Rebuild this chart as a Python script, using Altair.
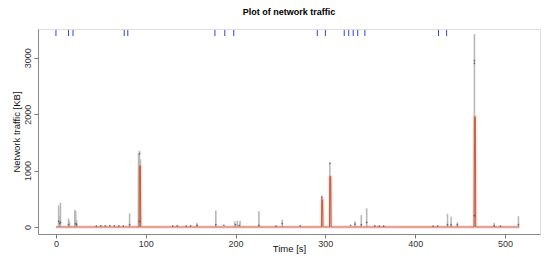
import altair as alt
import pandas as pd

# gray spikes (max traffic per time)
gray_t = [3, 4, 5, 14, 15, 21, 22, 23, 82, 92, 93, 94, 157, 178, 199, 202, 205, 226, 252,
          296, 305, 333, 340, 346, 436, 440, 447, 466, 488, 515]
gray_v = [380, 200, 430, 150, 100, 300, 280, 120, 240, 1300, 1350, 1200, 70, 290, 100, 110, 110, 280, 130,
          560, 1130, 100, 210, 330, 230, 180, 80, 3420, 70, 190]

# dark points
dark_t = [3, 4, 5, 14, 22, 23, 45, 50, 55, 60, 65, 70, 75, 82, 93, 93, 130, 135, 145, 150, 157, 178, 187,
          200, 204, 226, 245, 252, 272, 296, 305, 328, 333, 340, 346, 355, 360, 365, 420, 425, 436, 440,
          447, 466, 466, 466, 488, 495, 515]
dark_v = [100, 60, 80, 40, 60, 40, 15, 20, 20, 25, 20, 20, 15, 40, 100, 1300, 15, 20, 15, 20, 30, 40, 30,
          40, 30, 30, 15, 60, 20, 520, 1130, 30, 50, 40, 80, 20, 15, 15, 15, 15, 40, 40,
          40, 2900, 2950, 200, 20, 15, 40]

# red (mean) series
red_t = [0, 92.6, 93, 94, 94.4, 295.6, 296, 297, 297.4, 304.6, 305, 306, 306.4, 465.6, 466, 467, 467.4, 516]
red_v = [0, 0, 1080, 1080, 0, 0, 480, 480, 0, 0, 890, 890, 0, 0, 1950, 1950, 0, 0]

# rug (events) at top
rug_t = [0, 14, 19, 76, 80, 177, 188, 198, 291, 300, 321, 326, 331, 336, 344, 426, 435]

x_ticks = [0, 100, 200, 300, 400, 500]
y_ticks = [0, 500, 1000, 1500, 2000, 2500, 3000, 3500]

gray_df = pd.DataFrame({"t": gray_t, "v": gray_v})
dark_df = pd.DataFrame({"t": dark_t, "v": dark_v})
red_df = pd.DataFrame({"t": red_t, "v": red_v})
rug_df = pd.DataFrame({"t": rug_t})

xs = alt.Scale(domain=[-20, 539], nice=False, zero=False)
ys = alt.Scale(domain=[-125, 3510], nice=False, zero=False)

axis_x = alt.Axis(values=x_ticks, format="d", title="Time [s]", labelFontSize=9, titleFontSize=9.5,
                  titleFontWeight="normal", labelColor="#333", titleColor="#111",
                  tickColor="#777", domainColor="#888", tickSize=4, labelPadding=1,
                  titlePadding=-5, grid=False)
axis_y = alt.Axis(values=y_ticks, format="d", title="Network traffic [KB]", labelFontSize=9,
                  titleFontSize=9.5, titleFontWeight="normal", labelColor="#333", titleColor="#111",
                  tickColor="#777", domainColor="#888", tickSize=4, labelAngle=-90,
                  labelAlign="center", labelBaseline="bottom", labelPadding=2,
                  titlePadding=2, grid=False)

x = alt.X("t:Q", scale=xs, axis=axis_x)
y = alt.Y("v:Q", scale=ys, axis=axis_y)

pink = alt.Chart(red_df).mark_line(color="#f4a3b0", strokeWidth=4, opacity=0.25).encode(x=x, y=y)
gray = alt.Chart(gray_df).mark_rule(color="#b8b8b8", strokeWidth=1.6).encode(
    x=x, y=alt.Y("v:Q", scale=ys), y2=alt.datum(0))
red = alt.Chart(red_df).mark_line(color="#c8623e", strokeWidth=1.1).encode(x=x, y=y)
dark = alt.Chart(dark_df).mark_point(color="#444444", size=3, filled=True, opacity=0.7).encode(x=x, y=y)
rug = alt.Chart(rug_df).mark_rule(color="#3344cc", strokeWidth=1).encode(
    x=x, y=alt.value(1), y2=alt.value(7))

chart = alt.layer(pink, gray, red, dark, rug).properties(
    width=502, height=205,
    title=alt.TitleParams("Plot of network traffic", fontSize=9, fontWeight="bold",
                          anchor="middle", offset=12, color="#000"),
    autosize=alt.AutoSizeParams(type="none"),
    padding={"left": 30, "top": 21, "right": 2, "bottom": 20},
).configure_view(stroke="#888", strokeWidth=1).configure(font="Liberation Sans")

chart.save("out.html", embed_options={"renderer": "svg", "actions": False})
